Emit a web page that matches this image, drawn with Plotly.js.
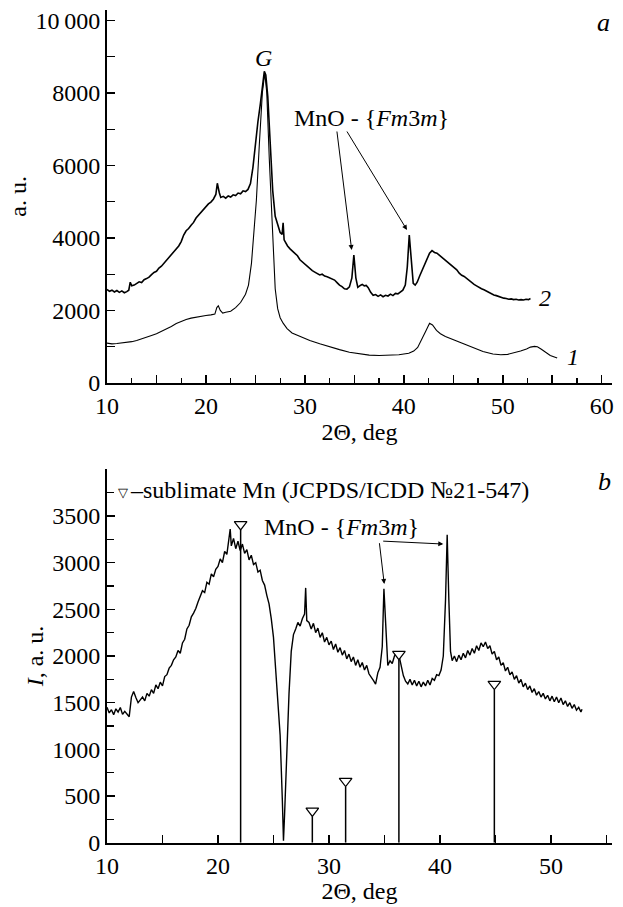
<!DOCTYPE html>
<html>
<head>
<meta charset="utf-8">
<script src="https://cdn.plot.ly/plotly-3.0.1.min.js"></script>
<style>html,body{margin:0;padding:0;background:#fff;}#chart{width:623px;height:907px;}
#chart text{font-family:'Liberation Serif' !important;}</style>
</head>
<body>
<div id="chart"></div>
<script>
// ---- Panel a: curve 1 (smooth) ----
const curve1X = [10.0,10.5,11.0,11.5,12.0,12.5,13.0,13.5,14.0,14.5,15.0,15.5,16.0,16.5,17.0,17.5,18.0,18.5,19.0,19.5,20.0,20.5,20.9,21.1,21.25,21.45,21.7,22.0,22.5,23.0,23.5,24.0,24.3,24.6,24.9,25.1,25.4,25.7,25.95,26.15,26.4,26.65,26.85,27.0,27.25,27.5,27.8,28.2,28.7,29.5,30.5,31.5,32.5,33.5,34.5,35.5,36.5,37.5,38.5,39.5,40.5,41.0,41.4,41.8,42.2,42.6,42.9,43.3,43.7,44.2,45.0,46.0,47.0,48.0,49.0,49.8,50.5,51.2,51.8,52.4,52.8,53.2,53.5,53.9,54.3,54.8,55.5];
const curve1Y = [1100,1080,1090,1100,1120,1140,1170,1210,1260,1310,1360,1420,1490,1560,1640,1700,1750,1790,1820,1840,1860,1880,1900,2080,2130,2000,1930,1950,1980,2080,2220,2450,2700,3300,4300,5050,6600,8000,8550,8000,6200,4700,3300,2600,2050,1800,1650,1500,1380,1280,1170,1080,990,920,850,800,770,760,760,780,820,880,980,1180,1420,1650,1600,1450,1360,1280,1190,1080,960,870,800,780,790,830,880,940,990,1010,1000,930,860,760,690];

// ---- Panel a: curve 2 (noisy) ----
const curve2X = [10.0,10.25,10.5,10.75,11.0,11.25,11.5,11.75,12.0,12.2,12.35,12.5,12.75,13.0,13.25,13.5,13.75,14.0,14.25,14.5,14.75,15.0,15.25,15.5,15.75,16.0,16.25,16.5,16.75,17.0,17.25,17.5,17.75,18.0,18.25,18.5,18.75,19.0,19.25,19.5,19.75,20.0,20.25,20.5,20.75,21.0,21.15,21.35,21.5,21.75,22.0,22.25,22.5,22.75,23.0,23.25,23.5,23.75,24.0,24.25,24.5,24.75,25.0,25.25,25.5,25.75,25.9,26.05,26.25,26.5,26.75,27.0,27.25,27.5,27.7,27.8,27.9,28.0,28.25,28.5,28.75,29.0,29.25,29.5,29.75,30.0,30.25,30.5,30.75,31.0,31.25,31.5,31.75,32.0,32.25,32.5,32.75,33.0,33.25,33.5,33.75,34.0,34.25,34.5,34.75,34.95,35.15,35.35,35.6,35.8,36.0,36.2,36.4,36.65,36.9,37.15,37.4,37.65,37.9,38.15,38.4,38.65,38.9,39.15,39.4,39.65,39.9,40.15,40.35,40.55,40.75,40.95,41.15,41.35,41.6,41.85,42.1,42.35,42.6,42.85,43.1,43.35,43.6,43.85,44.1,44.35,44.6,44.85,45.1,45.35,45.6,45.85,46.1,46.35,46.6,46.85,47.1,47.35,47.6,47.85,48.1,48.35,48.6,48.85,49.1,49.35,49.6,49.85,50.1,50.35,50.6,50.85,51.1,51.35,51.6,51.85,52.1,52.35,52.6,52.8];
const curve2Y = [2580,2530,2560,2510,2550,2500,2540,2490,2520,2560,2780,2680,2700,2740,2790,2770,2850,2880,2920,2990,3050,3080,3170,3220,3300,3350,3450,3520,3600,3690,3780,3900,4080,4200,4260,4350,4430,4550,4630,4700,4780,4850,4940,4990,5070,5200,5510,5250,5120,5150,5100,5160,5130,5190,5170,5240,5220,5300,5280,5340,5500,5950,6600,7200,7700,8250,8600,8500,7900,6600,5300,4600,4350,4150,4100,4420,3950,3900,3780,3700,3640,3560,3510,3400,3340,3270,3210,3170,3100,3060,3020,2980,3000,2950,2930,2900,2870,2840,2770,2700,2660,2600,2590,2650,2900,3530,2900,2640,2690,2720,2680,2690,2630,2500,2420,2440,2390,2430,2380,2420,2400,2450,2410,2470,2460,2520,2560,2700,3200,4080,3300,2750,2700,2780,2950,3100,3250,3450,3580,3650,3600,3580,3520,3470,3420,3350,3300,3220,3180,3120,3030,2970,2940,2880,2820,2770,2720,2680,2630,2600,2570,2530,2490,2460,2430,2410,2380,2360,2340,2330,2310,2320,2300,2310,2290,2300,2290,2310,2300,2330];

// ---- Panel b: measured pattern ----
const patternX = [10.0,10.2,10.4,10.6,10.8,11.0,11.2,11.4,11.6,11.8,12.0,12.2,12.4,12.6,12.8,13.0,13.2,13.4,13.6,13.8,14.0,14.2,14.4,14.6,14.8,15.0,15.2,15.4,15.6,15.8,16.0,16.2,16.4,16.6,16.8,17.0,17.2,17.4,17.6,17.8,18.0,18.2,18.4,18.6,18.8,19.0,19.2,19.4,19.6,19.8,20.0,20.2,20.4,20.6,20.8,21.0,21.1,21.2,21.4,21.6,21.8,22.0,22.2,22.4,22.6,22.8,23.0,23.2,23.4,23.6,23.8,24.0,24.2,24.4,24.6,24.8,25.0,25.2,25.4,25.6,25.8,25.9,26.0,26.2,26.4,26.6,26.8,27.0,27.2,27.4,27.6,27.8,27.9,28.0,28.2,28.4,28.6,28.8,29.0,29.2,29.4,29.6,29.8,30.0,30.2,30.4,30.6,30.8,31.0,31.2,31.4,31.6,31.8,32.0,32.2,32.4,32.6,32.8,33.0,33.2,33.4,33.6,33.8,34.0,34.2,34.4,34.6,34.8,34.95,35.1,35.3,35.5,35.7,35.9,36.1,36.3,36.5,36.7,36.9,37.1,37.3,37.5,37.7,37.9,38.1,38.3,38.5,38.7,38.9,39.1,39.3,39.5,39.7,39.9,40.1,40.3,40.5,40.65,40.8,40.95,41.1,41.3,41.5,41.7,41.9,42.1,42.3,42.5,42.7,42.9,43.1,43.3,43.5,43.7,43.9,44.1,44.3,44.5,44.7,44.9,45.1,45.3,45.5,45.7,45.9,46.1,46.3,46.5,46.7,46.9,47.1,47.3,47.5,47.7,47.9,48.1,48.3,48.5,48.7,48.9,49.1,49.3,49.5,49.7,49.9,50.1,50.3,50.5,50.7,50.9,51.1,51.3,51.5,51.7,51.9,52.1,52.3,52.5,52.7,52.8];
const patternY = [1450,1390,1425,1372,1435,1400,1448,1375,1408,1380,1350,1560,1620,1555,1500,1530,1560,1520,1600,1570,1640,1600,1690,1650,1720,1680,1780,1800,1870,1900,1960,1990,2060,2030,2140,2180,2290,2330,2420,2460,2510,2580,2650,2700,2680,2790,2770,2880,2850,2930,2960,3040,3000,3120,3090,3250,3360,3180,3260,3150,3230,3130,3200,3100,3140,3030,3080,2980,3000,2900,2920,2810,2760,2650,2560,2400,2200,1850,1450,1150,450,20,300,1000,1600,2050,2230,2290,2360,2320,2400,2450,2730,2380,2360,2290,2350,2250,2300,2200,2250,2150,2200,2120,2160,2070,2130,2040,2090,2010,2060,1970,2020,1940,1990,1900,1960,1880,1930,1850,1900,1810,1780,1740,1700,1820,1880,2100,2720,2300,1900,1950,1920,2000,2040,2010,1900,1790,1730,1700,1750,1690,1740,1680,1730,1670,1720,1680,1740,1690,1760,1740,1800,1790,1850,2000,2600,3300,2600,2050,1950,2000,1940,2010,1960,2030,1980,2060,2010,2080,2030,2110,2060,2140,2100,2150,2080,2110,2020,2050,1960,1990,1900,1930,1840,1880,1800,1830,1750,1790,1710,1750,1670,1710,1640,1680,1610,1650,1580,1620,1560,1600,1540,1580,1520,1570,1510,1560,1500,1550,1480,1520,1460,1500,1440,1480,1420,1450,1400,1430];

// ---- Panel b: reference lines of sublimate Mn ----
const refX = [22.04, 28.5, 31.5, 36.3, 44.9];
const refY = [3350, 280, 600, 1960, 1640];

// ---- Axis ticks ----
const topXTicks = [10,15,20,25,30,35,40,45,50,55,60];
const topXText = ['10','','20','','30','','40','','50','','60'];
const topYTicks = [0,2000,4000,6000,8000,10000];
const topYText = ['0','2000','4000','6000','8000','10\u2009000'];
const botXTicks = [10,15,20,25,30,35,40,45,50,55];
const botXText = ['10','','20','','30','','40','','50',''];
const botYTicks = [0,500,1000,1500,2000,2500,3000,3500];

const SERIF = 'Liberation Serif';
const TRI_OFFSET = 60;

const stickX = [], stickY = [];
refX.forEach((x, i) => { stickX.push(x, x, null); stickY.push(0, refY[i], null); });

function buildTraces() {
  return [
    {x: curve1X, y: curve1Y, xaxis: 'x', yaxis: 'y', mode: 'lines', line: {color: '#000', width: 1.1}, hoverinfo: 'skip'},
    {x: curve2X, y: curve2Y, xaxis: 'x', yaxis: 'y', mode: 'lines', line: {color: '#000', width: 1.6}, hoverinfo: 'skip'},
    {x: patternX, y: patternY, xaxis: 'x2', yaxis: 'y2', mode: 'lines', line: {color: '#000', width: 1.4}, hoverinfo: 'skip'},
    {x: stickX, y: stickY, xaxis: 'x2', yaxis: 'y2', mode: 'lines', line: {color: '#000', width: 1.5}, hoverinfo: 'skip'},
    {x: refX, y: refY.map(v => v + TRI_OFFSET), xaxis: 'x2', yaxis: 'y2', mode: 'markers',
     marker: {symbol: 'triangle-down', size: 11, color: '#fff', line: {color: '#000', width: 1.2}}, hoverinfo: 'skip'}
  ];
}

function f(size) { return {family: SERIF, size: size, color: '#000'}; }

function axis(extra) {
  return Object.assign({
    showline: true, linecolor: '#000', linewidth: 2, showgrid: false, zeroline: false,
    ticks: 'inside', ticklen: 8, tickwidth: 1.5, tickcolor: '#000',
    tickfont: f(24), mirror: false, fixedrange: true
  }, extra);
}

function arrow(xr, yr, x, y, ax, ay) {
  return {xref: xr, yref: yr, axref: xr, ayref: yr, x: x, y: y, ax: ax, ay: ay,
    showarrow: true, arrowhead: 2, arrowsize: 1, arrowwidth: 1, arrowcolor: '#000', text: ''};
}

function label(xr, yr, x, y, text, size, anchor) {
  return {xref: xr, yref: yr, x: x, y: y, text: text, showarrow: false, xanchor: anchor || 'center', font: f(size)};
}

function buildLayout() {
  return {
    width: 623, height: 907,
    margin: {l: 107, r: 11, t: 0, b: 0},
    paper_bgcolor: '#fff', plot_bgcolor: '#fff',
    showlegend: false,
    font: f(24),
    xaxis: axis({
      domain: [0, 1], anchor: 'y', range: [10, 61.04],
      tickmode: 'array', tickvals: topXTicks, ticktext: topXText,
      minor: {dtick: 2.5, tick0: 10, ticks: 'inside', ticklen: 5, tickwidth: 1.2, tickcolor: '#000'},
      title: {text: '2\u0398, deg', font: f(24), standoff: 2}
    }),
    yaxis: axis({
      domain: [0.57773, 0.98942], anchor: 'x', range: [0, 10300],
      tickmode: 'array', tickvals: topYTicks, ticktext: topYText,
      minor: {dtick: 1000, tick0: 0, ticks: 'inside', ticklen: 8, tickwidth: 1.2, tickcolor: '#000'},
      title: {text: 'a. u.', font: f(24), standoff: 2}
    }),
    xaxis2: axis({
      domain: [0, 1], anchor: 'y2', range: [10, 55.5],
      tickmode: 'array', tickvals: botXTicks, ticktext: botXText,
      title: {text: '2\u0398, deg', font: f(24), standoff: 2}
    }),
    yaxis2: axis({
      domain: [0.07089, 0.4825], anchor: 'x2', range: [0, 4000],
      tickmode: 'array', tickvals: botYTicks,
      minor: {dtick: 250, tick0: 0, ticks: 'inside', ticklen: 7, tickwidth: 1.2, tickcolor: '#000'},
      title: {text: '<i>I</i>, a. u.', font: f(24), standoff: 2}
    }),
    annotations: [
      label('x', 'y', 25.77, 8966, '<i>G</i>', 24),
      label('x', 'y', 28.67, 7310, 'MnO - {<i>Fm</i>3<i>m</i>}', 24, 'left'),
      arrow('x', 'y', 34.73, 3670, 33.22, 6979),
      arrow('x', 'y', 40.32, 4221, 34.16, 6979),
      label('x', 'y', 60.13, 9931, '<i>a</i>', 26),
      label('x', 'y', 54.27, 2345, '<i>2</i>', 24),
      label('x', 'y', 57.1, 717, '<i>1</i>', 24),
      {xref: 'x2', yref: 'y2', x: 11.4, y: 3757, text: '\u25BD', showarrow: false, font: {family: 'DejaVu Sans', size: 13, color: '#000'}},
      label('x2', 'y2', 11.89, 3779, '\u2013sublimate Mn (JCPDS/ICDD \u211621-547)', 24, 'left'),
      label('x2', 'y2', 23.94, 3386, 'MnO - {<i>Fm</i>3<i>m</i>}', 24, 'left'),
      arrow('x2', 'y2', 34.98, 2772, 34.53, 3225),
      arrow('x2', 'y2', 40.3, 3200, 34.75, 3232),
      label('x2', 'y2', 54.86, 3868, '<i>b</i>', 26)
    ]
  };
}

function draw() { Plotly.react('chart', buildTraces(), buildLayout(), {displayModeBar: false, staticPlot: true}); }
draw();
if (document.fonts && document.fonts.load) {
  Promise.all([
    document.fonts.load("24px 'Liberation Serif'"),
    document.fonts.load("italic 24px 'Liberation Serif'")
  ]).then(draw).catch(function () {});
}
</script>
</body>
</html>
